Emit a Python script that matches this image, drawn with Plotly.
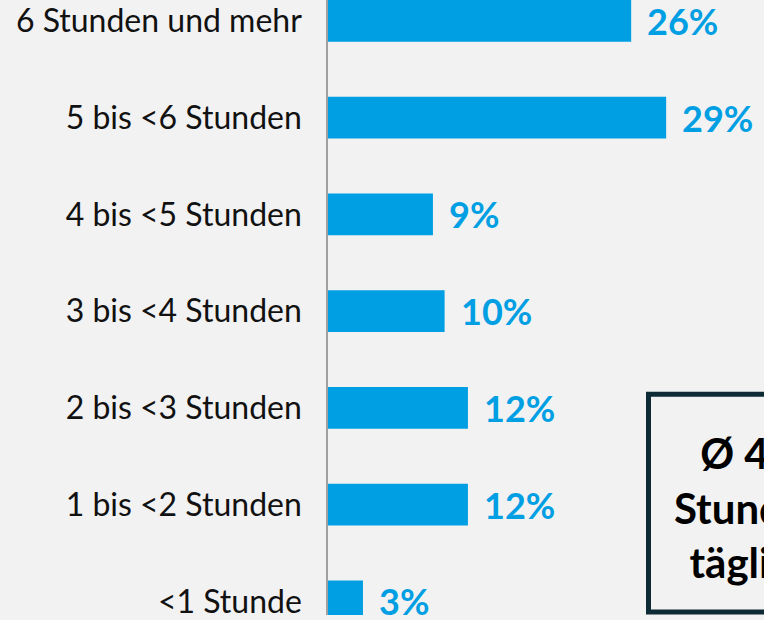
import plotly.graph_objects as go

categories = ["<1 Stunde", "1 bis <2 Stunden", "2 bis <3 Stunden", "3 bis <4 Stunden",
              "4 bis <5 Stunden", "5 bis <6 Stunden", "6 Stunden und mehr"]
values = [3, 12, 12, 10, 9, 29, 26]
value_labels = ["3%", "12%", "12%", "10%", "9%", "29%", "26%"]
box_text = "Ø 4,6<br>Stunden<br>täglich"

BLUE = "#009fe3"
BG = "#f2f2f2"

fig = go.Figure()
fig.add_trace(go.Bar(
    x=values, y=categories, orientation="h",
    marker=dict(color=BLUE, line=dict(width=0)),
    width=0.432, hoverinfo="skip",
))

for v, c, t in zip(values, categories, value_labels):
    fig.add_annotation(x=v, y=c, xref="x", yref="y", text=t, showarrow=False,
                       xanchor="left", yanchor="middle", xshift=14,
                       font=dict(family="Lato", size=36, color=BLUE, weight="bold"))

# average box (cut off at the right edge)
fig.add_shape(type="rect", xref="paper", yref="paper",
              x0=(648.5 - 328) / 436, x1=(870 - 328) / 436,
              y0=1 - 617 / 620, y1=1 - 397.5 / 620,
              line=dict(color="#0d2a35", width=5), fillcolor=BG, layer="above")
fig.add_annotation(xref="paper", yref="paper", x=(751 - 328) / 436, y=1 - 512 / 620,
                   text=box_text, showarrow=False, xanchor="center", yanchor="middle",
                   align="center",
                   font=dict(family="Lato", size=42, color="#000000", weight="bold"))

fig.update_layout(
    width=764, height=620,
    margin=dict(l=328, r=0, t=0, b=0),
    paper_bgcolor=BG, plot_bgcolor=BG,
    showlegend=False,
    xaxis=dict(range=[0, 436 / 11.66], visible=False, showgrid=False, zeroline=False),
    yaxis=dict(type="category", categoryorder="array", categoryarray=categories,
               range=[-0.14, 6.215], showgrid=False, zeroline=False,
               showline=True, linecolor="#a0a0a0", linewidth=1.5,
               ticks="", ticklabelstandoff=18,
               tickfont=dict(family="Lato", size=32, color="#111111")),
)

fig.write_html("out.html", config={"displayModeBar": False},
               post_script="document.body.style.margin='0';document.body.style.background='#f2f2f2';")
